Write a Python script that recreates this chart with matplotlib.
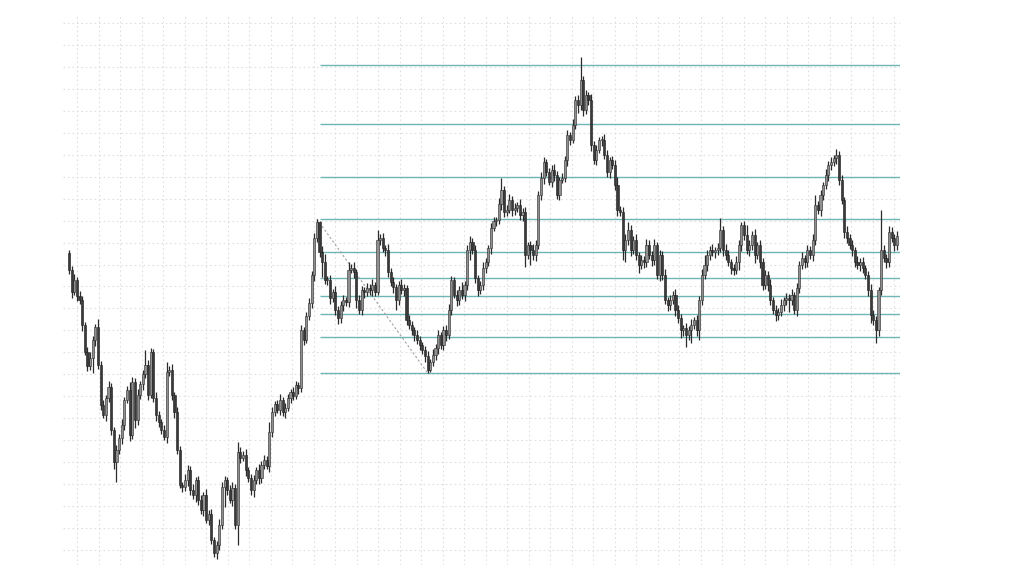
import matplotlib
matplotlib.use("Agg")
import matplotlib.pyplot as plt
import numpy as np

# closing prices, one per candle (opens follow the previous close)
first_open = 321
closes = [
    # left leg down
    304, 282, 294, 278, 274, 249, 222, 208, 216, 234, 247, 209, 169, 159, 176,
    187, 144, 112, 124, 136, 149, 174, 184, 139, 192, 154, 179, 190, 200, 209,
    179, 222, 176, 159, 152, 144, 137, 202, 204, 179, 162, 124, 89, 87, 94,
    # bottom and rally
    104, 84, 79, 94, 74, 64, 79, 54, 60, 34, 21, 29, 49, 87, 94, 84, 74, 86,
    49, 122, 116, 119, 104, 96, 84, 94, 104, 96, 109, 114, 108, 142, 162, 170,
    164, 174, 162, 166, 176, 182, 178, 189, 186, 244, 234, 258, 271, 299, 336,
    352, 322, 312, 294, 294, 276, 282, 264, 256,
    # pullback to swing low
    269, 274, 272, 304, 306, 302, 274, 264, 284, 282, 286, 284, 289, 282, 334,
    336, 326, 324, 302, 292, 287, 274, 289, 284, 286, 254, 249, 244, 239, 234,
    229, 224, 218, 204, 212, 219, 226, 239, 229, 244, 239, 264, 294, 279, 274,
    284, 279, 289, 324, 332, 324, 296, 284, 289, 306,
    # run to the top
    312, 326, 346, 353, 354, 370, 384, 362, 364, 374, 364, 366, 369, 359, 362,
    319, 329, 324, 319, 329, 379, 396, 412, 402, 392, 404, 399, 379, 394, 396,
    414, 439, 434, 449, 474, 469, 494, 464, 479, 474, 429, 414, 424, 434, 434,
    419, 402, 414, 409, 389, 364, 362, 324, 334,
    # middle range
    344, 324, 334, 319, 309, 314, 312, 329, 319, 314, 329, 299, 319, 299, 274,
    269, 274, 279, 264, 256, 244, 246, 239, 244, 249, 254, 244, 274, 299, 309,
    319, 324, 322, 324, 326, 344, 324, 319, 312, 306, 304, 312, 329, 349, 339,
    324, 329, 339, 319, 329, 312, 289,
    # right side
    299, 289, 274, 264, 259, 262, 269, 274, 276, 274, 279, 264, 286, 309, 316,
    312, 324, 319, 334, 369, 364, 379, 389, 399, 409, 412, 416, 419, 394, 374,
    342, 336, 329, 324, 312, 309, 312, 306, 299, 284, 259, 254, 244, 284, 324,
    316, 312, 342, 336, 329, 338,
]

wick_up = [
    3, 4, 6, 3, 5, 4, 3, 5, 6, 4, 3, 8, 4, 5, 3, 6, 4, 3, 5, 4, 6, 3, 4, 8, 5,
    4, 6, 3, 4, 15, 5, 4, 3, 6, 4, 3, 5, 10, 4, 6, 3, 5, 4, 3, 6,
    5, 4, 6, 3, 4, 5, 3, 6, 4, 5, 3, 4, 6, 5, 4, 3, 5, 6, 4, 10, 5, 4, 6, 3, 4,
    5, 3, 6, 4, 5, 4, 10, 5, 3, 4, 6, 3, 5, 4, 3, 5, 4, 3, 5, 3, 4, 5, 4, 5, 3,
    1, 6, 8, 4, 5, 3, 6, 4,
    4, 5, 3, 8, 4, 6, 3, 5, 4, 3, 5, 4, 6, 3, 10, 4, 5, 3, 6, 4, 5, 3, 4, 6, 4,
    3, 5, 4, 3, 5, 4, 3, 4, 5, 3, 6, 4, 5, 3, 4, 5, 6, 4, 3, 5, 4, 8, 4, 5, 6,
    4, 5, 3, 4, 6,
    4, 3, 5, 4, 3, 6, 12, 4, 5, 6, 4, 5, 3, 6, 4, 5, 3, 4, 6, 5, 4, 6, 5, 3, 4,
    5, 6, 4, 3, 5, 4, 5, 3, 6, 4, 5, 23, 4, 5, 3, 6, 4, 5, 3, 4, 6, 5, 3, 4, 5,
    8, 4, 5, 6,
    8, 5, 4, 6, 3, 5, 4, 6, 5, 4, 6, 3, 5, 4, 6, 3, 5, 4, 6, 5, 4, 3, 5, 4, 6,
    3, 5, 4, 6, 10, 5, 4, 6, 3, 5, 12, 4, 6, 5, 3, 4, 6, 5, 3, 4, 10, 5, 4, 6,
    3, 5, 4,
    5, 4, 6, 3, 5, 4, 6, 3, 5, 4, 6, 3, 5, 4, 6, 3, 5, 4, 6, 10, 4, 5, 3, 6, 4,
    5, 3, 6, 4, 5, 3, 6, 4, 5, 3, 6, 4, 5, 3, 4, 6, 5, 4, 3, 40, 5, 4, 6, 5, 4,
    5,
]

wick_dn = [
    4, 6, 3, 5, 4, 6, 3, 5, 4, 15, 6, 4, 5, 3, 6, 4, 5, 7, 20, 4, 6, 5, 3, 6, 4,
    8, 5, 4, 6, 4, 5, 3, 4, 6, 5, 4, 3, 6, 4, 5, 6, 4, 3, 5, 4,
    6, 5, 4, 7, 5, 4, 6, 3, 5, 4, 4, 6, 5, 4, 20, 5, 3, 6, 4, 20, 5, 3, 6, 4, 5,
    7, 4, 6, 5, 4, 3, 6, 5, 4, 3, 5, 4, 6, 3, 5, 4, 3, 6, 4, 5, 3, 4, 5, 6, 4,
    5, 15, 4, 5, 6, 4, 5, 6,
    5, 6, 4, 5, 3, 6, 8, 4, 5, 6, 4, 5, 6, 4, 3, 5, 4, 6, 5, 4, 6, 10, 5, 4, 6,
    5, 4, 5, 6, 4, 5, 4, 6, 3, 2, 4, 5, 6, 4, 5, 6, 4, 5, 3, 6, 5, 4, 6, 5, 10,
    4, 5, 6, 4, 5,
    5, 4, 6, 3, 5, 4, 6, 5, 4, 3, 6, 5, 4, 5, 6, 12, 4, 15, 5, 6, 4, 5, 6, 4, 3,
    5, 6, 4, 5, 3, 4, 6, 5, 3, 4, 8, 5, 6, 4, 5, 6, 4, 5, 3, 6, 4, 5, 6, 4, 5,
    6, 4, 10, 12,
    5, 6, 4, 5, 8, 4, 6, 5, 4, 6, 5, 4, 6, 5, 4, 6, 5, 4, 6, 5, 8, 6, 12, 5, 13,
    4, 6, 10, 5, 4, 6, 5, 4, 6, 5, 4, 6, 5, 4, 6, 5, 4, 8, 6, 5, 4, 6, 5, 8, 4,
    6, 5,
    4, 6, 5, 4, 6, 5, 4, 6, 5, 12, 5, 4, 6, 5, 4, 6, 5, 4, 6, 5, 4, 6, 5, 4, 6,
    5, 4, 6, 5, 4, 6, 5, 4, 6, 5, 4, 6, 5, 4, 6, 8, 5, 13, 6, 5, 4, 6, 5, 4, 6,
    5,
]

# swing used for the fibonacci levels
swing_hi_idx = 94
swing_lo_idx = 136
fib_levels = [0, 0.236, 0.382, 0.5, 0.618, 0.786, 1, 1.272, 1.618, 2]

closes = np.array(closes, dtype=float)
opens = np.concatenate([[first_open], closes[:-1]])
highs = np.maximum(opens, closes) + np.array(wick_up)
lows = np.minimum(opens, closes) - np.array(wick_dn)
n = len(closes)
idx = np.arange(n)

fig = plt.figure(figsize=(10.24, 5.74), dpi=100)
ax = fig.add_axes([63 / 1024, 9 / 574, 837 / 1024, 550 / 574])

step = 828 / (n - 1)  # candle spacing in pixels
ax.set_xlim(-6 / step, 831 / step)
ax.set_ylim(9, 559)

# grid
ax.set_xticks(8 / step + np.arange(39) * 21.5 / step)
ax.set_yticks(np.arange(24, 552, 21.96))
ax.grid(True, color="#e0e0e0", linestyle=(0, (1.5, 2.5)), linewidth=0.8)
ax.tick_params(length=0, labelbottom=False, labelleft=False)
for s in ax.spines.values():
    s.set_visible(False)
ax.set_axisbelow(True)

# candles
up = closes >= opens
ax.vlines(idx, lows, highs, color="#2b2b2b", linewidth=0.9, zorder=3)
body_h = np.maximum(np.abs(closes - opens), 0.8)
body_b = np.minimum(opens, closes)
ax.bar(idx[up], body_h[up], bottom=body_b[up], width=0.8,
       color="#8f8f8f", edgecolor="#2b2b2b", linewidth=0.4, zorder=4)
ax.bar(idx[~up], body_h[~up], bottom=body_b[~up], width=0.8,
       color="#3a3a3a", edgecolor="#1e1e1e", linewidth=0.4, zorder=4)

# fibonacci levels
hi = highs[swing_hi_idx]
lo = lows[swing_lo_idx]
x_end = 831 / step
for lv in fib_levels:
    y = lo + (hi - lo) * lv
    ax.hlines(y, swing_hi_idx + 1.0, x_end, color="#6fb5b5", linewidth=1.0, zorder=2)

ax.plot([swing_hi_idx, swing_lo_idx], [hi, lo], color="#a0a0a0",
        linestyle=(0, (2, 2)), linewidth=0.8, zorder=2)

fig.savefig("out.png", dpi=100, facecolor="white")
